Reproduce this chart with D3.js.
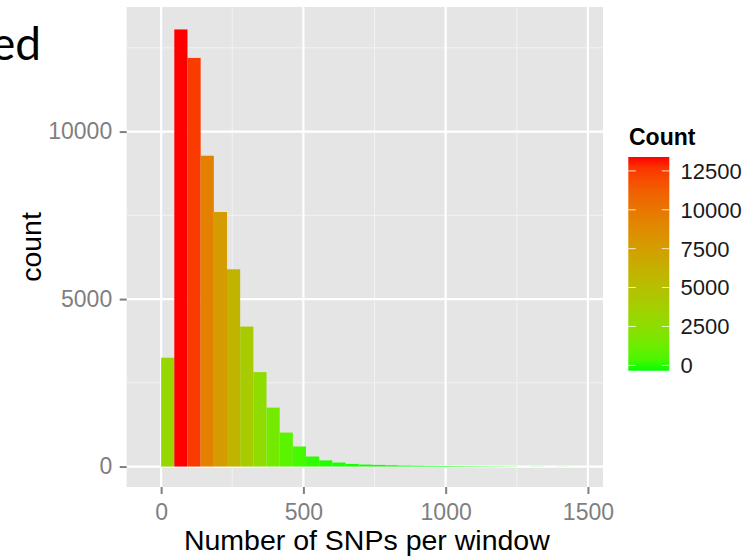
<!DOCTYPE html>
<html>
<head>
<meta charset="utf-8">
<script src="https://cdn.jsdelivr.net/npm/d3@7"></script>
<style>
  body { margin: 0; background: #fff; }
  svg { display: block; font-family: "Liberation Sans", Arial, Helvetica, sans-serif; }
</style>
</head>
<body>
<svg width="746" height="556"></svg>
<script>
// Histogram of SNPs per window, ggplot style, green -> red fill by count

// bin width (SNPs) and counts per bin
var binWidth = 46.3;
var binCounts = [3250, 13050, 12200, 9280, 7600, 5890, 4180, 2820, 1760, 1015,
  600, 300, 185, 120, 80, 60, 50, 40, 30, 25, 20, 18, 15, 12, 10, 8, 6, 0, 4, 0, 3];
var xTicks = [0, 500, 1000, 1500],
  xMinor = [250, 750, 1250],
  yTicks = [0, 5000, 10000],
  yMinor = [2500, 7500, 12500],
  legendTicks = [0, 2500, 5000, 7500, 10000, 12500];

var svg = d3.select("svg"),
  panel = { left: 126.7, top: 7, right: 603, bottom: 487 },
  tickCol = "#7f7f7f",
  maxCount = d3.max(binCounts);

var bins = binCounts.map(function (c, i) {
  return { x0: i * binWidth, x1: (i + 1) * binWidth, count: c };
});

var x = d3.scaleLinear().domain([-121, 1553]).range([panel.left, panel.right]);
var y = d3.scaleLinear().domain([-610, 13720]).range([panel.bottom, panel.top]);
var fill = d3.scaleLinear()
  .domain([0, maxCount])
  .range(["#00ff00", "#ff0000"])
  .interpolate(d3.interpolateLab);

// slide text fragment at top left
svg.append("text")
  .attr("x", 41).attr("y", 60)
  .attr("text-anchor", "end")
  .style("font-family", "Lato, 'Open Sans', sans-serif")
  .style("font-size", "46px")
  .attr("fill", "#000")
  .text("ed");

// panel background
svg.append("rect")
  .attr("x", panel.left).attr("y", panel.top)
  .attr("width", panel.right - panel.left)
  .attr("height", panel.bottom - panel.top)
  .attr("fill", "#e5e5e5");

var grid = svg.append("g");
// minor grid
grid.selectAll(".vminor").data(xMinor).enter().append("line")
  .attr("x1", x).attr("x2", x).attr("y1", panel.top).attr("y2", panel.bottom)
  .attr("stroke", "#f2f2f2").attr("stroke-width", 1);
grid.selectAll(".hminor").data(yMinor).enter().append("line")
  .attr("y1", y).attr("y2", y).attr("x1", panel.left).attr("x2", panel.right)
  .attr("stroke", "#f2f2f2").attr("stroke-width", 1);
// major grid
grid.selectAll(".vmajor").data(xTicks).enter().append("line")
  .attr("x1", x).attr("x2", x).attr("y1", panel.top).attr("y2", panel.bottom)
  .attr("stroke", "#fff").attr("stroke-width", 2.2);
grid.selectAll(".hmajor").data(yTicks).enter().append("line")
  .attr("y1", y).attr("y2", y).attr("x1", panel.left).attr("x2", panel.right)
  .attr("stroke", "#fff").attr("stroke-width", 2.2);

// bars
svg.append("g").selectAll("rect")
  .data(bins)
  .enter()
  .append("rect")
  .attr("x", function (d) { return x(d.x0); })
  .attr("width", function (d) { return x(d.x1) - x(d.x0); })
  .attr("y", function (d) { return y(d.count); })
  .attr("height", function (d) { return y(0) - y(d.count); })
  .attr("fill", function (d) { return fill(d.count); });

// axes
var xAxis = svg.append("g")
  .attr("transform", "translate(0," + panel.bottom + ")")
  .call(d3.axisBottom(x).tickValues(xTicks).tickSize(7).tickPadding(10).tickFormat(d3.format("d")));
var yAxis = svg.append("g")
  .attr("transform", "translate(" + panel.left + ",0)")
  .call(d3.axisLeft(y).tickValues(yTicks).tickSize(7).tickPadding(7.5).tickFormat(d3.format("d")));

[xAxis, yAxis].forEach(function (a) {
  a.select(".domain").remove();
  a.selectAll(".tick line").attr("stroke", tickCol).attr("stroke-width", 2);
  a.selectAll(".tick text")
    .attr("fill", tickCol)
    .style("font-size", "23px")
    .style("font-family", "'Liberation Sans', Arial, sans-serif");
});

// axis titles
svg.append("text")
  .attr("x", (panel.left + panel.right) / 2 + 2).attr("y", 550)
  .attr("text-anchor", "middle")
  .style("font-size", "28.5px")
  .attr("fill", "#000")
  .text("Number of SNPs per window");

svg.append("text")
  .attr("transform", "translate(41," + (panel.top + panel.bottom) / 2 + ") rotate(-90)")
  .attr("text-anchor", "middle")
  .style("font-size", "28.5px")
  .attr("fill", "#000")
  .text("count");

// legend (colour bar)
var bar = { x: 628.3, y: 157, w: 41, h: 213.7 },
  pad = bar.h * 0.025;
var legendY = d3.scaleLinear()
  .domain([0, maxCount])
  .range([bar.y + bar.h - pad, bar.y + pad]);

var grad = svg.append("defs").append("linearGradient")
  .attr("id", "countGrad")
  .attr("x1", 0).attr("y1", 1).attr("x2", 0).attr("y2", 0);
grad.selectAll("stop")
  .data(d3.range(0, 1.0001, 0.05))
  .enter()
  .append("stop")
  .attr("offset", function (t) { return t; })
  .attr("stop-color", function (t) { return fill(t * maxCount); });

var legend = svg.append("g");
legend.append("text")
  .attr("x", 629).attr("y", 145)
  .style("font-size", "23px")
  .style("font-weight", "bold")
  .attr("fill", "#000")
  .text("Count");

legend.append("rect")
  .attr("x", bar.x).attr("y", bar.y)
  .attr("width", bar.w).attr("height", bar.h)
  .attr("fill", "url(#countGrad)");

var lt = legend.selectAll(".lt").data(legendTicks).enter().append("g")
  .attr("transform", function (d) { return "translate(0," + legendY(d) + ")"; });
lt.append("line")
  .attr("x1", bar.x).attr("x2", bar.x + 7.5)
  .attr("stroke", "#fff").attr("stroke-opacity", 0.8).attr("stroke-width", 1);
lt.append("line")
  .attr("x1", bar.x + bar.w - 7.5).attr("x2", bar.x + bar.w)
  .attr("stroke", "#fff").attr("stroke-opacity", 0.8).attr("stroke-width", 1);
lt.append("text")
  .attr("x", 680.5)
  .attr("dy", "0.36em")
  .style("font-size", "22px")
  .attr("fill", "#1a1a1a")
  .text(function (d) { return d; });
</script>
</body>
</html>
